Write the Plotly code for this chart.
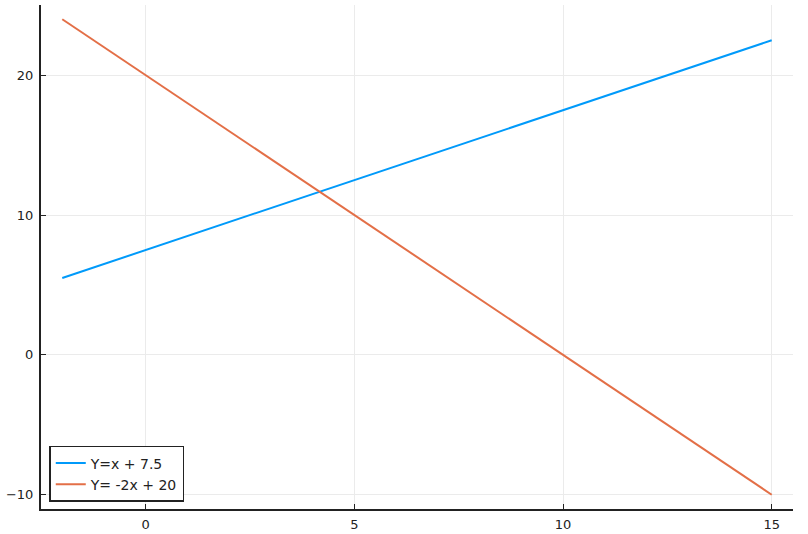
import plotly.graph_objects as go

x_vals = list(range(-2, 16))
y1_vals = [5.5, 6.5, 7.5, 8.5, 9.5, 10.5, 11.5, 12.5, 13.5,
           14.5, 15.5, 16.5, 17.5, 18.5, 19.5, 20.5, 21.5, 22.5]
y2_vals = [24, 22, 20, 18, 16, 14, 12, 10, 8, 6, 4, 2, 0, -2, -4, -6, -8, -10]
names = ["Y=x + 7.5", "Y= -2x + 20"]
colors = ["#009AFA", "#E36F47"]
x_ticks = [0, 5, 10, 15]
y_ticks = [-10, 0, 10, 20]

fig = go.Figure()
for ys, nm, c in zip([y1_vals, y2_vals], names, colors):
    fig.add_trace(go.Scatter(x=x_vals, y=ys, mode="lines", name=nm,
                             line=dict(color=c, width=2)))

axis_common = dict(showgrid=True, gridcolor="#EBEBEB", gridwidth=1, zeroline=False,
                   showline=True, linecolor="#222222", linewidth=2, ticks="inside",
                   ticklen=5, tickcolor="#222222", tickwidth=1,
                   tickfont=dict(family="DejaVu Sans", size=13, color="#222222"),
                   mirror=False, automargin=False)

fig.update_layout(
    width=808, height=534,
    margin=dict(l=41, r=15, t=5, b=25),
    paper_bgcolor="white", plot_bgcolor="white",
    xaxis=dict(range=[-2.51, 15.51], tickvals=x_ticks, ticklabelstandoff=2, **axis_common),
    yaxis=dict(range=[-11.02, 25.02], tickvals=y_ticks, ticklabelstandoff=3, **axis_common),
    legend=dict(x=0.011, y=0.014, xanchor="left", yanchor="bottom",
                bordercolor="#222222", borderwidth=1.5, bgcolor="white",
                font=dict(family="DejaVu Sans", size=14, color="#222222"),
                tracegroupgap=0),
    showlegend=True,
)

fig.write_html("out.html", config={"displayModeBar": False},
               post_script="document.body.style.margin='0';document.body.style.overflow='hidden';")
